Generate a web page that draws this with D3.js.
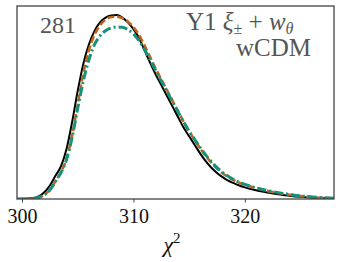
<!DOCTYPE html>
<html><head><meta charset="utf-8">
<script src="https://cdn.jsdelivr.net/npm/d3@7"></script>
<style>body{margin:0;background:#fff}svg{display:block}</style>
</head><body>
<script>
const chi2 = [299.5,300,300.5,301,301.5,302,302.5,303,303.5,304,304.5,305,305.5,306,306.5,307,307.5,308,308.5,309,309.5,310,310.5,311,311.5,312,312.5,313,313.5,314,314.5,315,315.5,316,316.5,317,317.5,318,318.5,319,319.5,320,321,322,323,324,325,326,327,328];
const black = [0,0.001,0.002,0.005,0.013,0.035,0.07,0.12,0.17,0.26,0.40,0.56,0.70,0.80,0.87,0.915,0.94,0.951,0.953,0.94,0.915,0.88,0.835,0.77,0.705,0.645,0.59,0.535,0.48,0.425,0.37,0.325,0.28,0.235,0.195,0.162,0.135,0.113,0.095,0.082,0.07,0.06,0.045,0.034,0.025,0.017,0.011,0.007,0.004,0.002];
const orange = [0,0,0.001,0.003,0.008,0.022,0.048,0.092,0.14,0.21,0.33,0.49,0.65,0.77,0.85,0.9,0.93,0.943,0.945,0.937,0.92,0.89,0.85,0.795,0.735,0.675,0.62,0.565,0.51,0.455,0.4,0.35,0.305,0.262,0.222,0.188,0.158,0.133,0.113,0.097,0.084,0.073,0.056,0.042,0.031,0.022,0.015,0.01,0.006,0.004];
const green = [0,0,0.001,0.003,0.008,0.021,0.046,0.09,0.137,0.205,0.32,0.47,0.61,0.72,0.8,0.845,0.872,0.886,0.892,0.89,0.878,0.855,0.82,0.775,0.72,0.665,0.61,0.558,0.505,0.452,0.4,0.352,0.308,0.266,0.227,0.193,0.163,0.138,0.118,0.101,0.087,0.076,0.058,0.044,0.033,0.024,0.016,0.011,0.007,0.004];
const xTicks = [300,310,320];

const W=341,H=262;
const m={l:17,r:334,t:6,b:199};
const svg=d3.select("body").append("svg").attr("width",W).attr("height",H);
const x=d3.scaleLinear().domain([299.55,328]).range([m.l,m.r]);
const y=d3.scaleLinear().domain([0,1]).range([m.b,m.t]);

svg.append("clipPath").attr("id","c").append("rect")
  .attr("x",m.l).attr("y",m.t).attr("width",m.r-m.l).attr("height",m.b-m.t);

const line=vals=>d3.line().x((d,i)=>x(chi2[i])).y(d=>y(d)).curve(d3.curveMonotoneX)(vals);
const g=svg.append("g").attr("clip-path","url(#c)");
g.append("path").attr("d",line(black)).attr("fill","none").attr("stroke","#000").attr("stroke-width",2);
g.append("path").attr("d",line(orange)).attr("fill","none").attr("stroke","#c0651d").attr("stroke-width",2.6).attr("stroke-dasharray","7,3");
g.append("path").attr("d",line(green)).attr("fill","none").attr("stroke","#16927a").attr("stroke-width",3).attr("stroke-dasharray","9,3,2,3");

svg.append("rect").attr("x",m.l).attr("y",m.t).attr("width",m.r-m.l).attr("height",m.b-m.t)
  .attr("fill","none").attr("stroke","#444").attr("stroke-width",1.3);

const ax=svg.append("g").attr("transform",`translate(0,${m.b})`)
  .call(d3.axisBottom(x).tickValues(xTicks).tickSize(3.5).tickPadding(4).tickFormat(d3.format("d")));
ax.select(".domain").remove();
ax.selectAll("line").attr("stroke","#444");
ax.selectAll("text").attr("font-family","Liberation Serif").attr("font-size",20).attr("fill","#111").attr("dy","0.8em");

svg.append("text").attr("x",40).attr("y",33).attr("font-family","Liberation Serif").attr("font-size",24).attr("fill","#555").text("281");

const t1=svg.append("text").attr("x",186).attr("y",30).attr("font-family","Liberation Serif").attr("font-size",25).attr("fill","#555");
t1.append("tspan").text("Y1 ");
t1.append("tspan").attr("font-style","italic").text("ξ");
t1.append("tspan").attr("font-size",16).attr("dy",4).text("±");
t1.append("tspan").attr("dy",-4).text(" + ");
t1.append("tspan").attr("font-style","italic").text("w");
t1.append("tspan").attr("font-style","italic").attr("font-size",16).attr("dy",4).text("θ");

svg.append("text").attr("x",311).attr("y",56).attr("text-anchor","end").attr("font-family","Liberation Serif").attr("font-size",25).attr("fill","#555").text("wCDM");

const xl=svg.append("text").attr("x",172).attr("y",252).attr("text-anchor","middle").attr("font-family","Liberation Serif").attr("font-size",22).attr("fill","#111");
xl.append("tspan").attr("font-style","italic").text("χ");
xl.append("tspan").attr("font-size",15).attr("dy",-9).text("2");
</script>
</body></html>
